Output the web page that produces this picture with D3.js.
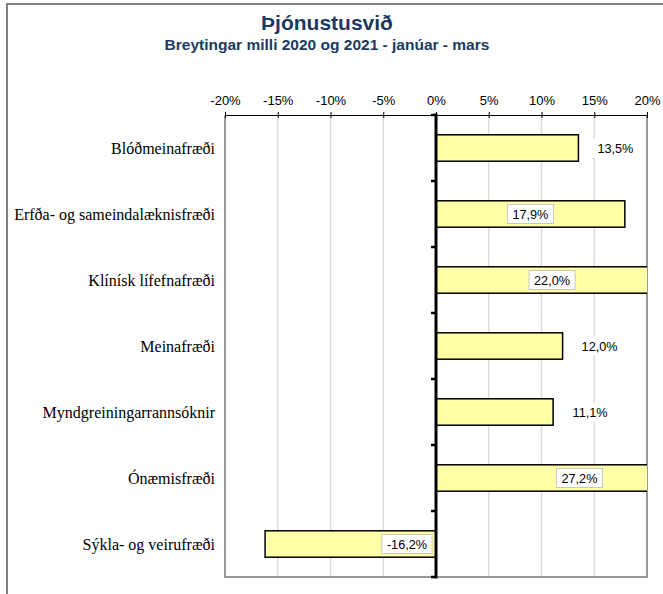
<!DOCTYPE html>
<html>
<head>
<meta charset="utf-8">
<script src="https://cdn.jsdelivr.net/npm/d3@7"></script>
<style>
  html, body { margin: 0; padding: 0; background: #fff; }
  svg { display: block; }
</style>
</head>
<body>
<svg id="chart" width="663" height="594"></svg>
<script>
// Þjónustusvið – breytingar milli 2020 og 2021, janúar–mars
const categories = [
  "Blóðmeinafræði",
  "Erfða- og sameindalæknisfræði",
  "Klínísk lífefnafræði",
  "Meinafræði",
  "Myndgreiningarrannsóknir",
  "Ónæmisfræði",
  "Sýkla- og veirufræði"
];
const changes = [0.135, 0.179, 0.220, 0.120, 0.111, 0.272, -0.162];
const tickValues = [-0.20, -0.15, -0.10, -0.05, 0, 0.05, 0.10, 0.15, 0.20];

const titleText = "Þjónustusvið";
const subtitleText = "Breytingar milli 2020 og 2021 - janúar - mars";

const svg = d3.select("#chart");
const plot = { left: 225, right: 647, top: 115, bottom: 577 };

const x = d3.scaleLinear().domain([-0.2, 0.2]).range([plot.left, plot.right]);
const y = d3.scaleBand().domain(categories).range([plot.top, plot.bottom]).paddingInner(0.6).paddingOuter(0.3);
const yBand = d3.scaleBand().domain(categories).range([plot.top, plot.bottom]);

// Icelandic style: comma decimal, plain hyphen for negatives
const pct = v => (v * 100).toFixed(1).replace(".", ",") + "%";
const tickPct = v => (v * 100).toFixed(0) + "%";

const sans = "Liberation Sans, Arial, sans-serif";

// outer frame
svg.append("rect")
  .attr("x", 7).attr("y", 4).attr("width", 720).attr("height", 700)
  .attr("fill", "none").attr("stroke", "#808080").attr("stroke-width", 2);

// titles
svg.append("text")
  .attr("x", 327).attr("y", 30).attr("text-anchor", "middle")
  .attr("font-family", sans)
  .attr("font-size", 21).attr("font-weight", "bold").attr("fill", "#1A3A60")
  .text(titleText);
svg.append("text")
  .attr("x", 327).attr("y", 50).attr("text-anchor", "middle")
  .attr("font-family", sans)
  .attr("font-size", 15.5).attr("font-weight", "bold").attr("fill", "#1A3A60")
  .text(subtitleText);

// vertical grid lines
svg.append("g").selectAll("line")
  .data(tickValues.filter(t => t !== 0 && Math.abs(t) < 0.2))
  .join("line")
  .attr("x1", d => x(d)).attr("x2", d => x(d))
  .attr("y1", plot.top).attr("y2", plot.bottom)
  .attr("stroke", "#dcdcdc").attr("stroke-width", 1.5);

// plot border (left, right, bottom)
svg.append("path")
  .attr("d", `M${plot.left},${plot.top}V${plot.bottom}H${plot.right}V${plot.top}`)
  .attr("fill", "none").attr("stroke", "#999").attr("stroke-width", 2);

// clip for bars that run past the scale
svg.append("clipPath").attr("id", "plotClip")
  .append("rect")
  .attr("x", plot.left).attr("y", plot.top)
  .attr("width", plot.right - plot.left).attr("height", plot.bottom - plot.top);

// bars
svg.append("g").attr("clip-path", "url(#plotClip)")
  .selectAll("rect")
  .data(categories.map((c, i) => ({ c, v: changes[i] })))
  .join("rect")
  .attr("x", d => x(Math.min(0, d.v)))
  .attr("y", d => y(d.c))
  .attr("width", d => Math.abs(x(d.v) - x(0)))
  .attr("height", y.bandwidth())
  .attr("fill", "#FFFFA8").attr("stroke", "#000").attr("stroke-width", 1.5);

// top axis
const xAxis = d3.axisTop(x).tickValues(tickValues)
  .tickFormat(tickPct)
  .tickSizeInner(3).tickSizeOuter(0).tickPadding(7);
const gx = svg.append("g").attr("transform", `translate(0,${plot.top})`).call(xAxis);
gx.select(".domain").attr("stroke", "#000");
gx.selectAll(".tick line").attr("y1", 3).attr("y2", -3).attr("stroke", "#000");
gx.selectAll(".tick text")
  .attr("font-family", sans)
  .attr("font-size", 13).attr("fill", "#000");

// zero axis with category boundary ticks
svg.append("line")
  .attr("x1", x(0)).attr("x2", x(0))
  .attr("y1", plot.top).attr("y2", plot.bottom)
  .attr("stroke", "#000").attr("stroke-width", 3).attr("stroke-linecap", "square");
const boundaries = categories.map(c => yBand(c)).concat([plot.bottom]);
svg.append("g").selectAll("line")
  .data(boundaries)
  .join("line")
  .attr("x1", x(0) - 5).attr("x2", x(0))
  .attr("y1", d => d).attr("y2", d => d)
  .attr("stroke", "#000").attr("stroke-width", 2.5);

// category labels
svg.append("g").selectAll("text")
  .data(categories)
  .join("text")
  .attr("x", 215)
  .attr("y", d => yBand(d) + yBand.bandwidth() / 2 + 5.5)
  .attr("text-anchor", "end")
  .attr("font-family", "Liberation Serif, Times New Roman, serif")
  .attr("font-size", 16).attr("fill", "#000")
  .text(d => d);

// value labels
const labelG = svg.append("g");
categories.forEach((c, i) => {
  const v = changes[i];
  const cy = y(c) + y.bandwidth() / 2;
  let cx, boxed = true;
  if (v < 0) {
    cx = x(0) - 29;
  } else if (x(v) - x(0) > 170) {
    cx = (x(0) + x(v)) / 2;
  } else {
    cx = x(v) + 37;
    boxed = false;
  }
  const g = labelG.append("g");
  const t = g.append("text")
    .attr("x", cx).attr("y", cy + 4.5)
    .attr("text-anchor", "middle")
    .attr("font-family", sans)
    .attr("font-size", 12.7).attr("fill", "#000")
    .text(pct(v));
  const w = t.node().getComputedTextLength() + 10;
  g.insert("rect", "text")
    .attr("x", cx - w / 2).attr("y", cy - 9.5)
    .attr("width", w).attr("height", 19)
    .attr("fill", "#fff")
    .attr("stroke", boxed ? "#c8c8c8" : "none").attr("stroke-width", 1);
});
</script>
</body>
</html>
